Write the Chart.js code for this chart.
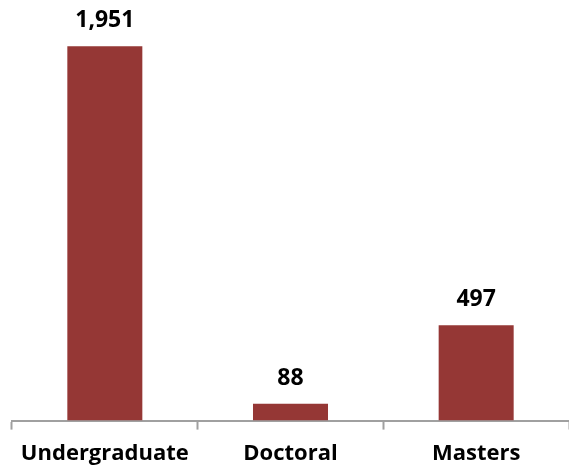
<!DOCTYPE html>
<html>
<head>
<meta charset="utf-8">
<script src="https://cdn.jsdelivr.net/npm/chart.js@4/dist/chart.umd.min.js"></script>
<style>
  html, body { margin: 0; padding: 0; background: #fff; }
  #wrap { width: 569px; height: 470px; position: relative; }
</style>
</head>
<body>
<div id="wrap"><canvas id="chart"></canvas></div>
<script>
const categories = ['Undergraduate', 'Doctoral', 'Masters'];
const students = [1951, 88, 497];
const yMax = 2140;

const barColor = '#953735';
const fontFamily = '"Open Sans", Lato, sans-serif';

// draws the value above each bar, like the Excel data labels
const valueLabels = {
  id: 'valueLabels',
  afterDatasetsDraw(chart) {
    const ctx = chart.ctx;
    const meta = chart.getDatasetMeta(0);
    ctx.save();
    ctx.font = `bold 23px ${fontFamily}`;
    ctx.fillStyle = '#000';
    ctx.textAlign = 'center';
    ctx.textBaseline = 'alphabetic';
    meta.data.forEach((bar, i) => {
      ctx.fillText(students[i].toLocaleString('en-US'), bar.x, bar.y - 19);
    });
    ctx.restore();
  }
};

new Chart(document.getElementById('chart'), {
  type: 'bar',
  data: {
    labels: categories,
    datasets: [{
      data: students,
      backgroundColor: barColor,
      borderWidth: 0,
      categoryPercentage: 0.8,
      barPercentage: 0.505
    }]
  },
  options: {
    responsive: true,
    maintainAspectRatio: false,
    animation: false,
    layout: { padding: { top: 10, left: 12, right: 0, bottom: -8 } },
    plugins: {
      legend: { display: false },
      tooltip: { enabled: false }
    },
    scales: {
      y: { display: false, min: 0, max: yMax },
      x: {
        border: { display: true, color: '#a0a0a0', width: 2 },
        grid: {
          display: true,
          drawOnChartArea: false,
          drawTicks: true,
          tickLength: 9,
          tickWidth: 2,
          tickColor: '#a0a0a0',
          offset: true
        },
        ticks: {
          color: '#000',
          padding: 11,
          font: { family: fontFamily, size: 22, weight: 'bold' }
        }
      }
    }
  },
  plugins: [valueLabels]
});
</script>
</body>
</html>
